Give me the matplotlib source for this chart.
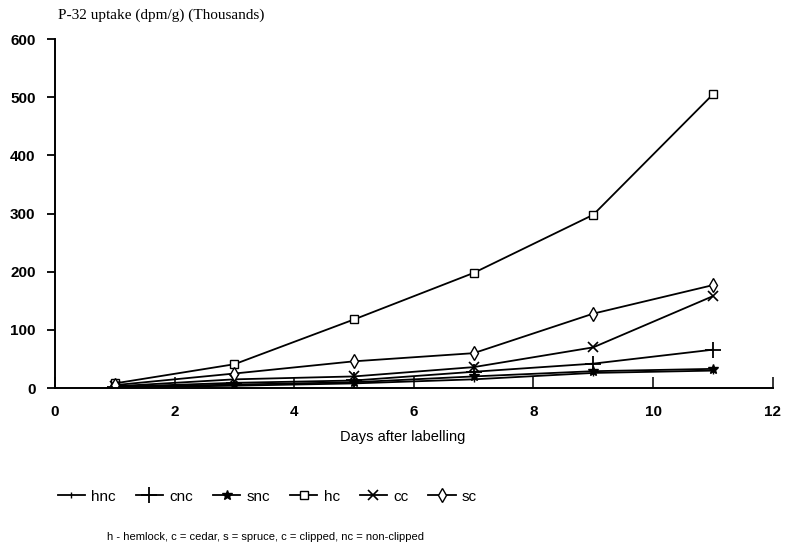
import matplotlib.pyplot as plt

# P-32 uptake by tree type, thousands of dpm/g
days = [1, 3, 5, 7, 9, 11]
hnc = [1, 4, 8, 15, 26, 30]
cnc = [2, 9, 13, 28, 42, 66]
snc = [2, 6, 10, 20, 29, 33]
hc = [8, 41, 118, 198, 298, 505]
cc = [3, 15, 20, 36, 70, 158]
sc = [5, 25, 46, 60, 128, 177]

series = [
    ('hnc', hnc, dict(marker='|', markersize=4)),
    ('cnc', cnc, dict(marker='+', markersize=11, markeredgewidth=1.3)),
    ('snc', snc, dict(marker='*', markersize=7)),
    ('hc', hc, dict(marker='s', markersize=6, markerfacecolor='white')),
    ('cc', cc, dict(marker='x', markersize=7, markeredgewidth=1.2)),
    ('sc', sc, dict(marker='d', markersize=7, markerfacecolor='white')),
]

fig = plt.figure(figsize=(7.86, 5.52), dpi=100)
ax = fig.add_axes([0.070, 0.297, 0.913, 0.632])

for name, vals, style in series:
    ax.plot(days, vals, color='black', linewidth=1.3, label=name,
            markeredgecolor='black', **style)

ax.set_xlim(0, 12)
ax.set_ylim(0, 600)
ax.set_xticks([0, 2, 4, 6, 8, 10, 12])
ax.set_yticks([0, 100, 200, 300, 400, 500, 600])
ax.spines['top'].set_visible(False)
ax.spines['right'].set_visible(False)
for s in ('left', 'bottom'):
    ax.spines[s].set_linewidth(1.4)
ax.tick_params(axis='y', direction='out', length=6, width=1.3, pad=8)
ax.tick_params(axis='x', direction='in', length=8, width=1.1, pad=12)
for lab in ax.get_xticklabels() + ax.get_yticklabels():
    lab.set_fontsize(11)
    lab.set_fontweight('bold')
    lab.set_family('Liberation Sans')

ax.set_xlabel('Days after labelling', fontsize=10.5, family='Liberation Sans')
ax.xaxis.set_label_coords(0.485, -0.12)
fig.text(0.074, 0.973, 'P-32 uptake (dpm/g) (Thousands)', fontsize=11,
         family='Liberation Serif', va='center', ha='left')

fig.legend(loc='center', bbox_to_anchor=(0.34, 0.10), ncol=6, frameon=False,
           handlelength=1.8, columnspacing=1.3, handletextpad=0.4,
           prop=dict(family='Liberation Sans', size=11))
fig.text(0.338, 0.027, 'h - hemlock, c = cedar, s = spruce, c = clipped, nc = non-clipped',
         fontsize=8, family='Liberation Sans', ha='center', va='center')

fig.savefig('out.png', dpi=100)
